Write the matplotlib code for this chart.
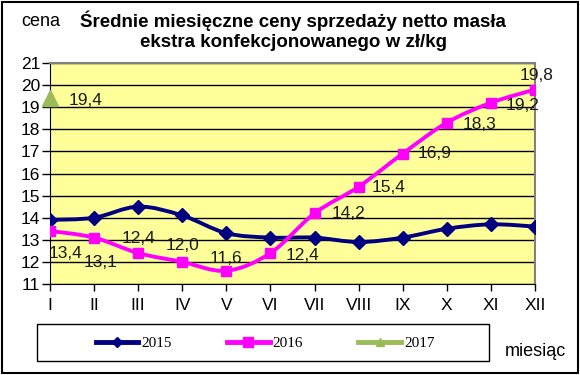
import numpy as np
import matplotlib
matplotlib.use("Agg")
import matplotlib.pyplot as plt
from matplotlib.path import Path
from matplotlib.patches import PathPatch, Rectangle
from matplotlib.lines import Line2D

months = ["I", "II", "III", "IV", "V", "VI", "VII", "VIII", "IX", "X", "XI", "XII"]
ceny_2015 = [13.9, 14.0, 14.5, 14.1, 13.3, 13.1, 13.1, 12.9, 13.1, 13.5, 13.7, 13.6]
ceny_2016 = [13.4, 13.1, 12.4, 12.0, 11.6, 12.4, 14.2, 15.4, 16.9, 18.3, 19.2, 19.8]
ceny_2017 = [19.4]

# offsets (px) of the data labels for 2016, like in the excel chart
lab_dx = [15, 6, 0, 0, 0, 32, 34, 30, 32, 33, 32, 2]
lab_dy = [-23, -25, 15, 16, 12, -2, 0, -1, 0, -2, -3, 14]

C15 = "#000080"
C16 = "#FF00FF"
C17 = "#9BBB59"


def smooth_path(x, y):
    # bezier curve through the points (excel "smoothed line")
    x = np.asarray(x, float)
    y = np.asarray(y, float)
    n = len(x)
    verts = [(x[0], y[0])]
    codes = [Path.MOVETO]
    for i in range(n - 1):
        x0, y0 = (x[i - 1], y[i - 1]) if i > 0 else (x[i], y[i])
        x3, y3 = (x[i + 2], y[i + 2]) if i + 2 < n else (x[i + 1], y[i + 1])
        c1 = (x[i] + (x[i + 1] - x0) / 6, y[i] + (y[i + 1] - y0) / 6)
        c2 = (x[i + 1] - (x3 - x[i]) / 6, y[i + 1] - (y3 - y[i]) / 6)
        verts += [c1, c2, (x[i + 1], y[i + 1])]
        codes += [Path.CURVE4] * 3
    return Path(verts, codes)


plt.rcParams['font.family'] = ['Liberation Sans', 'DejaVu Sans']

fig = plt.figure(figsize=(5.8, 3.75), dpi=100)
ax = fig.add_axes([50 / 580, 91 / 375, 485 / 580, 221 / 375])
ax.set_facecolor("#FFFF99")

x = np.arange(len(months))
ax.add_patch(PathPatch(smooth_path(x, ceny_2015), fill=False, ec=C15, lw=2.8, zorder=3))
ax.plot(x, ceny_2015, ls="none", marker="D", ms=7.5, color=C15, zorder=4)
ax.add_patch(PathPatch(smooth_path(x, ceny_2016), fill=False, ec=C16, lw=2.8, zorder=3))
ax.plot(x, ceny_2016, ls="none", marker="s", ms=6.5, color=C16, zorder=4)
ax.plot(x[:len(ceny_2017)], ceny_2017, ls="none", marker="^", ms=12, color=C17,
        zorder=5, clip_on=False)

for i, v in enumerate(ceny_2016):
    ax.annotate(f"{v:.1f}".replace(".", ","), (x[i], v), xytext=(lab_dx[i], lab_dy[i]),
                textcoords="offset pixels", ha="center", va="center",
                fontsize=12.5, color="#1a1a1a", zorder=6, annotation_clip=False)
ax.annotate(f"{ceny_2017[0]:.1f}".replace(".", ","), (x[0], ceny_2017[0]),
            xytext=(36, -2), textcoords="offset pixels", ha="center", va="center",
            fontsize=12.5, color="#1a1a1a", zorder=6, annotation_clip=False)

ax.set_xlim(0, len(months) - 1)
ax.set_ylim(11, 21)
ax.set_xticks(x)
ax.set_xticklabels(months, fontsize=12.5)
ax.set_yticks(range(11, 22))
ax.tick_params(axis="y", labelsize=12.5, length=6, width=1, pad=1)
ax.tick_params(axis="x", length=5, width=1, pad=5)
ax.yaxis.grid(True, color="black", lw=1)
ax.set_axisbelow(True)
ax.spines["top"].set_color("#808080")
ax.spines["right"].set_color("#808080")
ax.spines["top"].set_linewidth(1.5)
ax.spines["right"].set_linewidth(1.5)

fig.text(293 / 580, 1 - 31 / 375,
         "Średnie miesięczne ceny sprzedaży netto masła\nekstra konfekcjonowanego w zł/kg",
         ha="center", va="center", fontsize=13.5, fontweight="bold", linespacing=1.25)
fig.text(21 / 580, 1 - 21 / 375, "cena", ha="left", va="center", fontsize=13)
fig.text(535 / 580, 1 - 352 / 375, "miesiąc", ha="center", va="center", fontsize=13)

handles = [
    Line2D([], [], color=C15, lw=3.5, marker="D", ms=5),
    Line2D([], [], color=C16, lw=3.5, marker="s", ms=6.5),
    Line2D([], [], color=C17, lw=3.5, marker="^", ms=6),
]
fig.legend(handles, ["2015", "2016", "2017"], loc="center", ncol=3,
           bbox_to_anchor=(265 / 580, 1 - 343 / 375), frameon=False,
           prop={"family": "Liberation Serif", "size": 11},
           handlelength=2.8, handletextpad=0.2, columnspacing=3.6)
fig.patches.append(Rectangle((37 / 580, 1 - 361 / 375), 452 / 580, 37 / 375,
                             transform=fig.transFigure, fill=False, ec="black", lw=1))
fig.patches.append(Rectangle((1.5 / 580, 2 / 375), 576 / 580, 371 / 375,
                             transform=fig.transFigure, fill=False, ec="black", lw=1.5))

fig.savefig("out.png", dpi=100)
